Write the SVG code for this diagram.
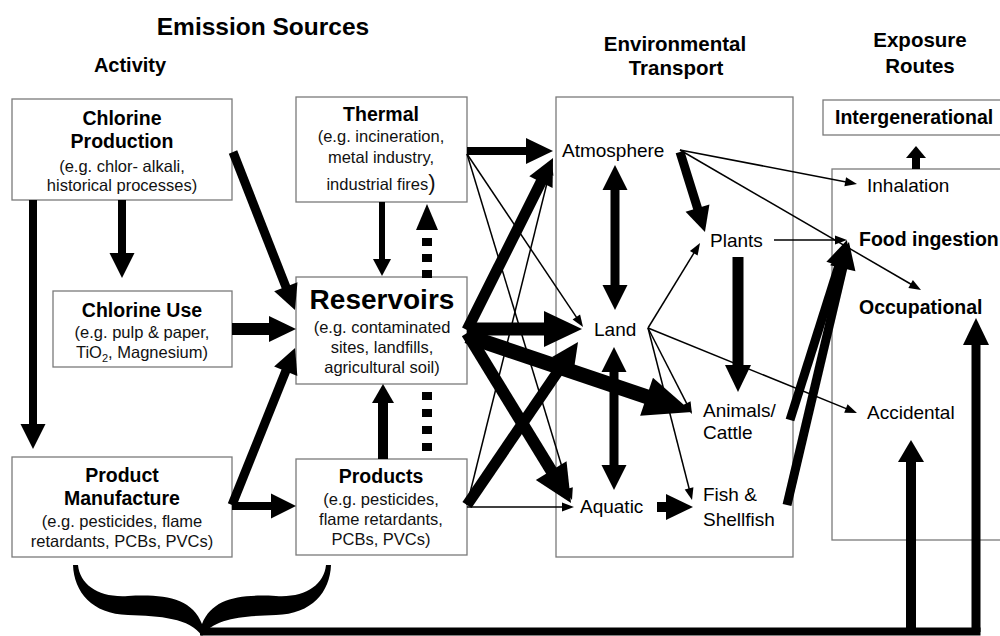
<svg xmlns="http://www.w3.org/2000/svg" width="1000" height="636" viewBox="0 0 1000 636">
<style>
text{font-family:"Liberation Sans",Arial,Helvetica,sans-serif;fill:#000}
.box{fill:#fff;stroke:#7a7a7a;stroke-width:1.3}
.hd{font-weight:bold;font-size:20.5px;text-anchor:middle}
.bt{font-weight:bold;font-size:19.5px;text-anchor:middle}
.sm{font-size:16.5px;text-anchor:middle;fill:#111}
.el{font-size:19px}
.eb{font-size:19.5px;font-weight:bold}
.k{stroke:#000;fill:none;stroke-linecap:butt}
.t{stroke:#000;fill:none;stroke-width:1.5}
.hf{fill:#000;stroke:none}
</style>
<defs>
<marker id="ms" markerUnits="userSpaceOnUse" orient="auto" refX="1" refY="0" markerWidth="14" markerHeight="12" overflow="visible"><path class="hf" d="M0,-4.5L12,0L0,4.5Z"/></marker>
<marker id="mt" markerUnits="userSpaceOnUse" orient="auto" refX="1" refY="0" markerWidth="20" markerHeight="20" overflow="visible"><path class="hf" d="M0,-9L17,0L0,9Z"/></marker>
<marker id="mr" markerUnits="userSpaceOnUse" orient="auto" refX="1" refY="0" markerWidth="20" markerHeight="24" overflow="visible"><path class="hf" d="M0,-11L19,0L0,11Z"/></marker>
<marker id="mu" markerUnits="userSpaceOnUse" orient="auto" refX="1" refY="0" markerWidth="24" markerHeight="28" overflow="visible"><path class="hf" d="M0,-13L22,0L0,13Z"/></marker>
<marker id="mm" markerUnits="userSpaceOnUse" orient="auto-start-reverse" refX="1" refY="0" markerWidth="26" markerHeight="26" overflow="visible"><path class="hf" d="M0,-12.5L25,0L0,12.5Z"/></marker>
<marker id="mb" markerUnits="userSpaceOnUse" orient="auto" refX="1" refY="0" markerWidth="28" markerHeight="28" overflow="visible"><path class="hf" d="M0,-13L27,0L0,13Z"/></marker>
<marker id="mx" markerUnits="userSpaceOnUse" orient="auto" refX="1" refY="0" markerWidth="40" markerHeight="38" overflow="visible"><path class="hf" d="M0,-18L38,0L0,18Z"/></marker>
<marker id="mxx" markerUnits="userSpaceOnUse" orient="auto" refX="1" refY="0" markerWidth="50" markerHeight="42" overflow="visible"><path class="hf" d="M0,-20L48,0L0,20Z"/></marker>
</defs>
<rect width="1000" height="636" fill="#fff"/>

<g id="titles">
<text class="hd" x="263" y="35" style="font-size:24.5px">Emission Sources</text>
<text class="hd" x="130" y="72" style="font-size:20px">Activity</text>
<text class="hd" x="675" y="51">Environmental</text>
<text class="hd" x="676" y="75">Transport</text>
<text class="hd" x="920" y="47">Exposure</text>
<text class="hd" x="920" y="73">Routes</text>
</g>

<g id="environmental-transport">
<rect class="box" x="556" y="97" width="237" height="460"/>
</g>
<g id="exposure-routes">
<rect class="box" x="832" y="169" width="180" height="371"/>
</g>

<g id="chlorine-production">
<rect class="box" x="12" y="99" width="220" height="101"/>
<text class="bt" x="122" y="125">Chlorine</text>
<text class="bt" x="122" y="148">Production</text>
<text class="sm" x="122" y="172">(e.g. chlor- alkali,</text>
<text class="sm" x="122" y="191">historical processes)</text>
</g>
<g id="thermal">
<rect class="box" x="296" y="97" width="171" height="105"/>
<text class="bt" x="381" y="121">Thermal</text>
<text class="sm" x="381" y="142">(e.g. incineration,</text>
<text class="sm" x="381" y="163">metal industry,</text>
<text class="sm" x="381" y="190">industrial fires<tspan style="font-size:22px">)</tspan></text>
</g>
<g id="chlorine-use">
<rect class="box" x="53" y="291" width="179" height="76"/>
<text class="bt" x="142" y="317">Chlorine Use</text>
<text class="sm" x="142" y="338">(e.g. pulp &amp; paper,</text>
<text class="sm" x="142" y="358">TiO<tspan dy="4" style="font-size:11px">2</tspan><tspan dy="-4">, Magnesium)</tspan></text>
</g>
<g id="reservoirs">
<rect class="box" x="296" y="277" width="171" height="107"/>
<text class="bt" x="382" y="309" style="font-size:28px">Reservoirs</text>
<text class="sm" x="382" y="333">(e.g. contaminated</text>
<text class="sm" x="382" y="353">sites, landfills,</text>
<text class="sm" x="382" y="373">agricultural soil)</text>
</g>
<g id="product-manufacture">
<rect class="box" x="12" y="457" width="220" height="100"/>
<text class="bt" x="122" y="482">Product</text>
<text class="bt" x="122" y="505">Manufacture</text>
<text class="sm" x="122" y="527">(e.g. pesticides, flame</text>
<text class="sm" x="122" y="547">retardants, PCBs, PVCs)</text>
</g>
<g id="products">
<rect class="box" x="296" y="459" width="171" height="96"/>
<text class="bt" x="381" y="483">Products</text>
<text class="sm" x="381" y="505">(e.g. pesticides,</text>
<text class="sm" x="381" y="525">flame retardants,</text>
<text class="sm" x="381" y="545">PCBs, PVCs)</text>
</g>
<g id="intergenerational">
<rect class="box" x="823" y="100" width="190" height="35"/>
<text class="eb" x="835" y="124">Intergenerational</text>
</g>

<g id="connectors">
<!-- activity side -->
<line class="k" x1="33" y1="200" x2="33" y2="425" stroke-width="8" marker-end="url(#mm)"/>
<line class="k" x1="122" y1="200" x2="122" y2="254" stroke-width="8" marker-end="url(#mm)"/>
<line class="k" x1="233" y1="152" x2="286.2" y2="287.7" stroke-width="9" marker-end="url(#mm)"/>
<line class="k" x1="232" y1="329" x2="270" y2="329" stroke-width="12" marker-end="url(#mb)"/>
<line class="k" x1="232" y1="505" x2="286.1" y2="370.3" stroke-width="9" marker-end="url(#mm)"/>
<line class="k" x1="232" y1="506" x2="272" y2="506" stroke-width="8" marker-end="url(#mm)"/>
<line class="k" x1="382" y1="202" x2="382" y2="260" stroke-width="6" marker-end="url(#mt)"/>
<line class="k" x1="383" y1="459" x2="383" y2="402" stroke-width="10" marker-end="url(#mr)"/>
<line class="k" x1="427" y1="278" x2="427" y2="229" stroke-width="10" stroke-dasharray="8 8"/>
<polygon class="hf" points="416,230 438,230 427,204"/>
<line class="k" x1="427" y1="392" x2="427" y2="451" stroke-width="10" stroke-dasharray="8 9"/>
<!-- sources to environment -->
<line class="k" x1="467" y1="151" x2="527" y2="151" stroke-width="8" marker-end="url(#mb)"/>
<line class="k" x1="467" y1="330" x2="541.4" y2="181.2" stroke-width="11" marker-end="url(#mb)"/>
<line class="k" x1="467" y1="329" x2="545" y2="329" stroke-width="13" marker-end="url(#mx)"/>
<line class="k" x1="467" y1="333" x2="551.7" y2="471.4" stroke-width="12" marker-end="url(#mx)"/>
<line class="k" x1="467" y1="336" x2="647.5" y2="397" stroke-width="15" marker-end="url(#mxx)"/>
<line class="k" x1="467" y1="505" x2="563.4" y2="363.5" stroke-width="11" marker-end="url(#mb)"/>
<line class="t" x1="467" y1="507" x2="563" y2="507" marker-end="url(#ms)"/>
<line class="t" x1="467" y1="154" x2="576.9" y2="317.9" marker-end="url(#ms)"/>
<line class="t" x1="467" y1="154" x2="568.8" y2="489.5" marker-end="url(#ms)"/>
<line class="t" x1="467" y1="505" x2="549.3" y2="173.7" marker-end="url(#ms)"/>
<!-- environmental transport -->
<line class="k" x1="615" y1="189" x2="615" y2="286" stroke-width="9" marker-start="url(#mm)" marker-end="url(#mm)"/>
<line class="k" x1="614" y1="371" x2="614" y2="466" stroke-width="9" marker-start="url(#mm)" marker-end="url(#mm)"/>
<line class="k" x1="680" y1="152" x2="697.8" y2="209.1" stroke-width="9" marker-end="url(#mm)"/>
<line class="t" x1="680" y1="150" x2="846.2" y2="181.9" marker-end="url(#ms)"/>
<line class="t" x1="680" y1="150" x2="911.5" y2="284.5" marker-end="url(#ms)"/>
<line class="t" x1="774" y1="240" x2="836" y2="240" marker-end="url(#ms)"/>
<line class="t" x1="648" y1="328" x2="694.3" y2="252.4" marker-end="url(#ms)"/>
<line class="t" x1="648" y1="328" x2="687" y2="404.2" marker-end="url(#ms)"/>
<line class="t" x1="648" y1="328" x2="689.3" y2="489.3" marker-end="url(#ms)"/>
<line class="t" x1="648" y1="328" x2="846.8" y2="408.9" marker-end="url(#ms)"/>
<line class="k" x1="738" y1="257" x2="738" y2="366" stroke-width="11" marker-end="url(#mb)"/>
<line class="k" x1="657" y1="507" x2="667" y2="507" stroke-width="10" marker-end="url(#mb)"/>
<line class="k" x1="790" y1="420" x2="839.1" y2="264.8" stroke-width="9" marker-end="url(#mb)"/>
<line class="k" x1="787" y1="505" x2="843" y2="267.3" stroke-width="9" marker-end="url(#mb)"/>
<!-- exposure -->
<line class="k" x1="916" y1="169" x2="916" y2="157" stroke-width="8"/>
<polygon class="hf" points="906,158 926,158 916,146"/>
<path class="hf" d="M73,565 C74,592 92,614 128,615 C160,616 190,618 202,636 C214,618 244,616 276,615 C312,614 330,592 331,565 L326,565 C324,585 305,598 276,596 C240,594 212,598 202,624 C192,598 164,594 128,596 C99,598 80,585 78,565 Z"/>
<line class="k" x1="200" y1="631.5" x2="980.5" y2="631.5" stroke-width="8"/>
<line class="k" x1="911" y1="632" x2="911" y2="461" stroke-width="10" marker-end="url(#mu)"/>
<line class="k" x1="976" y1="632" x2="976" y2="344" stroke-width="9" marker-end="url(#mb)"/>
</g>

<g id="atmosphere"><text class="el" x="562" y="157">Atmosphere</text></g>
<g id="land"><text class="el" x="594" y="336">Land</text></g>
<g id="aquatic"><text class="el" x="580" y="513">Aquatic</text></g>
<g id="plants"><text class="el" x="710" y="247">Plants</text></g>
<g id="animals-cattle"><text class="el" x="703" y="417">Animals/</text><text class="el" x="703" y="439">Cattle</text></g>
<g id="fish-shellfish"><text class="el" x="703" y="501">Fish &amp;</text><text class="el" x="703" y="526">Shellfish</text></g>
<g id="inhalation"><text class="el" x="867" y="192">Inhalation</text></g>
<g id="food-ingestion"><text class="eb" x="859" y="246">Food ingestion</text></g>
<g id="occupational"><text class="eb" x="859" y="314">Occupational</text></g>
<g id="accidental"><text class="el" x="867" y="419">Accidental</text></g>
</svg>
